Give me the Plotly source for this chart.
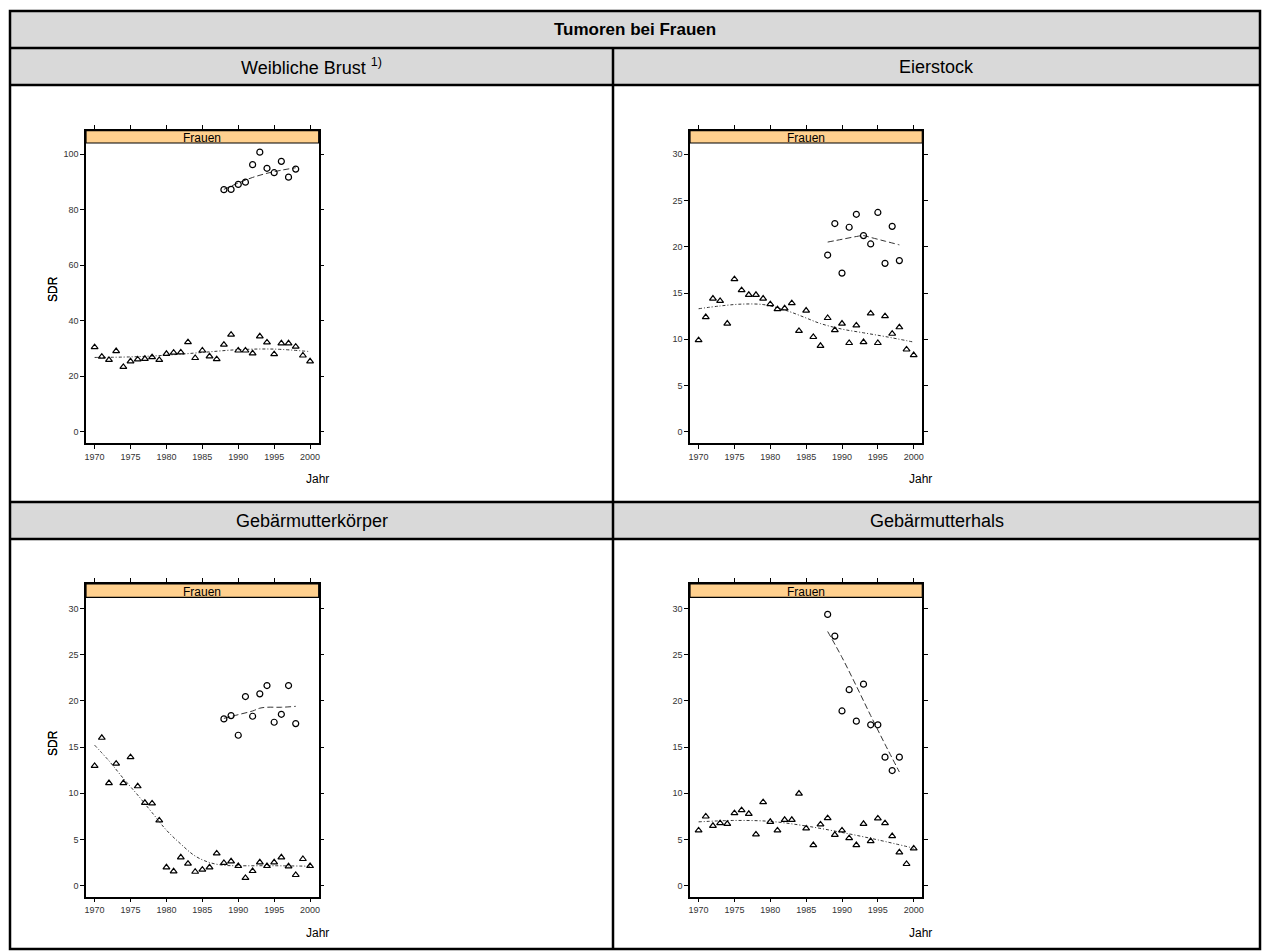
import plotly.graph_objects as go

W, H = 1262, 951

# ---------------- data ----------------
years = list(range(1970, 2001))
years_c = list(range(1988, 1999))

# Weibliche Brust
brust_tri = [30.5, 27.1, 25.9, 29.1, 23.4, 25.4, 26.1, 26.3, 26.9, 25.9, 28.1, 28.5, 28.6, 32.3, 26.6,
             29.3, 27.2, 26.2, 31.4, 35.0, 29.3, 29.3, 28.3, 34.4, 32.2, 28.0, 31.9, 31.9, 30.7, 27.5, 25.4]
brust_circ = [87.2, 87.3, 89.1, 89.9, 96.2, 100.7, 94.9, 93.3, 97.4, 91.7, 94.6]
brust_tri_fit_x = [1970, 1975, 1980, 1985, 1990, 1995, 2000]
brust_tri_fit_y = [26.8, 27.0, 27.6, 28.6, 29.6, 29.8, 28.9]
brust_circ_fit_x = [1988, 1990, 1992, 1994, 1996, 1998]
brust_circ_fit_y = [87.3, 89.6, 91.6, 93.1, 94.2, 95.1]

# Eierstock
eier_tri = [9.9, 12.4, 14.4, 14.15, 11.7, 16.5, 15.3, 14.8, 14.8, 14.4, 13.8, 13.25, 13.35, 13.9, 10.9,
            13.1, 10.25, 9.3, 12.3, 11.0, 11.7, 9.6, 11.5, 9.7, 12.8, 9.6, 12.5, 10.6, 11.3, 8.9, 8.3]
eier_circ = [19.1, 22.5, 17.15, 22.1, 23.5, 21.2, 20.3, 23.7, 18.2, 22.2, 18.5]
eier_tri_fit_x = [1970, 1973, 1976, 1979, 1981, 1983, 1985, 1987, 1990, 1993, 1996, 2000]
eier_tri_fit_y = [13.3, 13.6, 13.8, 13.75, 13.4, 12.9, 12.3, 11.7, 11.1, 10.7, 10.3, 9.7]
eier_circ_fit_x = [1988, 1990, 1992, 1993, 1994, 1996, 1998]
eier_circ_fit_y = [20.5, 20.8, 21.1, 21.2, 21.0, 20.6, 20.2]

# Gebärmutterkörper
koerper_tri = [12.95, 16.0, 11.1, 13.2, 11.1, 13.9, 10.75, 8.96, 8.9, 7.05, 1.98, 1.55, 3.06, 2.37, 1.5,
               1.73, 1.98, 3.49, 2.45, 2.63, 2.12, 0.83, 1.58, 2.52, 2.12, 2.52, 3.06, 2.09, 1.15, 2.88, 2.12]
koerper_circ = [18.04, 18.4, 16.27, 20.46, 18.33, 20.75, 21.65, 17.68, 18.54, 21.65, 17.53]
koerper_tri_fit_x = [1970, 1972, 1974, 1976, 1978, 1980, 1982, 1984, 1986, 1988, 1990, 1995, 2000]
koerper_tri_fit_y = [15.2, 13.5, 11.6, 9.8, 7.9, 6.0, 4.5, 3.2, 2.5, 2.2, 2.15, 2.15, 2.1]
koerper_circ_fit_x = [1988, 1990, 1992, 1993, 1994, 1996, 1998]
koerper_circ_fit_y = [18.1, 18.5, 18.9, 19.2, 19.3, 19.3, 19.4]

# Gebärmutterhals
hals_tri = [5.97, 7.48, 6.47, 6.76, 6.69, 7.84, 8.17, 7.77, 5.54, 9.03, 6.9, 5.97, 7.12, 7.12, 9.96,
            6.19, 4.39, 6.62, 7.3, 5.5, 5.97, 5.14, 4.39, 6.69, 4.82, 7.27, 6.76, 5.36, 3.6, 2.34, 4.03]
hals_circ = [29.35, 27.0, 18.9, 21.2, 17.8, 21.8, 17.4, 17.4, 13.9, 12.45, 13.9]
hals_tri_fit_x = [1970, 1975, 1980, 1985, 1990, 1995, 2000]
hals_tri_fit_y = [6.9, 7.05, 6.95, 6.45, 5.75, 4.95, 4.05]
hals_circ_fit_x = [1988, 1990, 1992, 1994, 1996, 1998]
hals_circ_fit_y = [27.5, 24.7, 21.6, 18.4, 15.3, 12.3]

panel_titles = ["Weibliche Brust <sup>1)</sup>", "Eierstock", "Gebärmutterkörper", "Gebärmutterhals"]
table_title = "Tumoren bei Frauen"
strip_label = "Frauen"
x_label = "Jahr"
y_label = "SDR"
x_ticks = [1970, 1975, 1980, 1985, 1990, 1995, 2000]
y_ticks_big = [0, 20, 40, 60, 80, 100]
y_ticks_small = [0, 5, 10, 15, 20, 25, 30]

panels = [
    dict(tri=brust_tri, circ=brust_circ, tfx=brust_tri_fit_x, tfy=brust_tri_fit_y,
         cfx=brust_circ_fit_x, cfy=brust_circ_fit_y, ylim=(-4, 104), yticks=y_ticks_big),
    dict(tri=eier_tri, circ=eier_circ, tfx=eier_tri_fit_x, tfy=eier_tri_fit_y,
         cfx=eier_circ_fit_x, cfy=eier_circ_fit_y, ylim=(-1.2, 31.2), yticks=y_ticks_small),
    dict(tri=koerper_tri, circ=koerper_circ, tfx=koerper_tri_fit_x, tfy=koerper_tri_fit_y,
         cfx=koerper_circ_fit_x, cfy=koerper_circ_fit_y, ylim=(-1.2, 31.2), yticks=y_ticks_small),
    dict(tri=hals_tri, circ=hals_circ, tfx=hals_tri_fit_x, tfy=hals_tri_fit_y,
         cfx=hals_circ_fit_x, cfy=hals_circ_fit_y, ylim=(-1.2, 31.2), yticks=y_ticks_small),
]

# ---------------- geometry (pixels) ----------------
def fx(x):
    return x / W

def fy(y):
    return 1 - y / H

TL, TR, TT, TB = 10, 1260, 11, 949   # table box
COLX = 613
ROWS = [48, 85, 502, 539]
# panel boxes: (left, right, strip_top, strip_bottom, bottom)
boxes = [
    (86, 318.7, 130.7, 143.0, 443.0),
    (690, 922.3, 130.7, 143.0, 443.0),
    (86, 318.7, 584.0, 597.3, 896.7),
    (690, 922.3, 584.0, 597.3, 896.7),
]
XR = [1968.8, 2001.2]
FONT = "Liberation Sans, Arial, Helvetica, sans-serif"

fig = go.Figure()
shapes = []
annotations = []

# table background & lines
gray = "#d9d9d9"
for (y0, y1) in [(TT, ROWS[0]), (ROWS[0], ROWS[1]), (ROWS[2], ROWS[3])]:
    shapes.append(dict(type="rect", xref="paper", yref="paper", x0=fx(TL), x1=fx(TR), y0=fy(y1), y1=fy(y0),
                       fillcolor=gray, line=dict(width=0), layer="below"))
for y in ROWS:
    shapes.append(dict(type="line", xref="paper", yref="paper", x0=fx(TL), x1=fx(TR), y0=fy(y), y1=fy(y),
                       line=dict(color="black", width=2.5)))
shapes.append(dict(type="line", xref="paper", yref="paper", x0=fx(COLX), x1=fx(COLX), y0=fy(TB), y1=fy(ROWS[0]),
                   line=dict(color="black", width=2.5)))
shapes.append(dict(type="rect", xref="paper", yref="paper", x0=fx(TL), x1=fx(TR), y0=fy(TB), y1=fy(TT),
                   line=dict(color="black", width=2.5)))

annotations.append(dict(text="<b>" + table_title + "</b>", xref="paper", yref="paper",
                        x=fx((TL + TR) / 2), y=fy((TT + ROWS[0]) / 2), showarrow=False,
                        font=dict(family=FONT, size=17, color="black"), xanchor="center", yanchor="middle"))
title_pos = [((TL + COLX) / 2, (ROWS[0] + ROWS[1]) / 2), ((COLX + TR) / 2, (ROWS[0] + ROWS[1]) / 2),
             ((TL + COLX) / 2, (ROWS[2] + ROWS[3]) / 2), ((COLX + TR) / 2, (ROWS[2] + ROWS[3]) / 2)]
for t, (px, py) in zip(panel_titles, title_pos):
    annotations.append(dict(text=t, xref="paper", yref="paper", x=fx(px), y=fy(py), showarrow=False,
                            font=dict(family=FONT, size=18, color="black"), xanchor="center", yanchor="middle"))

lay = {}
for i, (p, b) in enumerate(zip(panels, boxes), start=1):
    left, right, st, sb, bot = b
    lo, hi = p["ylim"]
    scale = (bot - sb) / (hi - lo)
    ytop = hi + (sb - st) / scale
    xa = "x" if i == 1 else f"x{i}"
    ya = "y" if i == 1 else f"y{i}"
    # data
    fig.add_trace(go.Scatter(x=p["tfx"], y=p["tfy"], mode="lines", xaxis=xa, yaxis=ya,
                             line=dict(color="#333333", width=1, dash="3px,2px,1px,2px", shape="spline"),
                             showlegend=False, hoverinfo="skip"))
    fig.add_trace(go.Scatter(x=p["cfx"], y=p["cfy"], mode="lines", xaxis=xa, yaxis=ya,
                             line=dict(color="#333333", width=1, dash="6px,3px", shape="spline"),
                             showlegend=False, hoverinfo="skip"))
    fig.add_trace(go.Scatter(x=years, y=p["tri"], mode="markers", xaxis=xa, yaxis=ya,
                             marker=dict(symbol="triangle-up-open", size=6, color="black", line=dict(width=1.2)),
                             showlegend=False))
    fig.add_trace(go.Scatter(x=years_c, y=p["circ"], mode="markers", xaxis=xa, yaxis=ya,
                             marker=dict(symbol="circle-open", size=6, color="black", line=dict(width=1.2)),
                             showlegend=False))
    axkey = "xaxis" if i == 1 else f"xaxis{i}"
    aykey = "yaxis" if i == 1 else f"yaxis{i}"
    lay[axkey] = dict(domain=[fx(left), fx(right)], anchor=ya, range=XR, tickvals=x_ticks,
                      ticks="outside", ticklen=4, tickwidth=1, tickcolor="black",
                      showline=True, linecolor="black", linewidth=1.5, mirror="ticks",
                      showgrid=False, zeroline=False,
                      tickfont=dict(family=FONT, size=9, color="#333333"))
    lay[aykey] = dict(domain=[fy(bot), fy(st)], anchor=xa, range=[lo, ytop], tickvals=p["yticks"],
                      ticks="outside", ticklen=4, tickwidth=1, tickcolor="black",
                      showline=True, linecolor="black", linewidth=1.5, mirror="ticks",
                      showgrid=False, zeroline=False,
                      tickfont=dict(family=FONT, size=9, color="#333333"))
    # strip
    shapes.append(dict(type="rect", xref="paper", yref="paper", x0=fx(left), x1=fx(right), y0=fy(sb), y1=fy(st),
                       fillcolor="#ffd08e", line=dict(color="black", width=1.2)))
    annotations.append(dict(text=strip_label, xref="paper", yref="paper", x=fx((left + right) / 2),
                            y=fy((st + sb) / 2 + 1.5), showarrow=False, xanchor="center", yanchor="middle",
                            font=dict(family=FONT, size=12, color="black")))
    annotations.append(dict(text=y_label, xref="paper", yref="paper", x=fx(53), y=fy((sb + bot) / 2 - 4),
                            showarrow=False, textangle=-90, xanchor="center", yanchor="middle",
                            font=dict(family=FONT, size=12, color="black")))
    annotations.append(dict(text=x_label, xref="paper", yref="paper", x=fx(right - 1.5), y=fy(bot + 36),
                            showarrow=False, xanchor="center", yanchor="middle",
                            font=dict(family=FONT, size=12, color="black")))

fig.update_layout(width=W, height=H, margin=dict(l=0, r=0, t=0, b=0, pad=0, autoexpand=False),
                  paper_bgcolor="white", plot_bgcolor="white", showlegend=False,
                  shapes=shapes, annotations=annotations, font=dict(family=FONT), **lay)

fig.write_html("out.html", config={"displayModeBar": False},
               post_script="document.body.style.margin='0';document.body.style.padding='0';"
                           "document.body.style.overflow='hidden';")
